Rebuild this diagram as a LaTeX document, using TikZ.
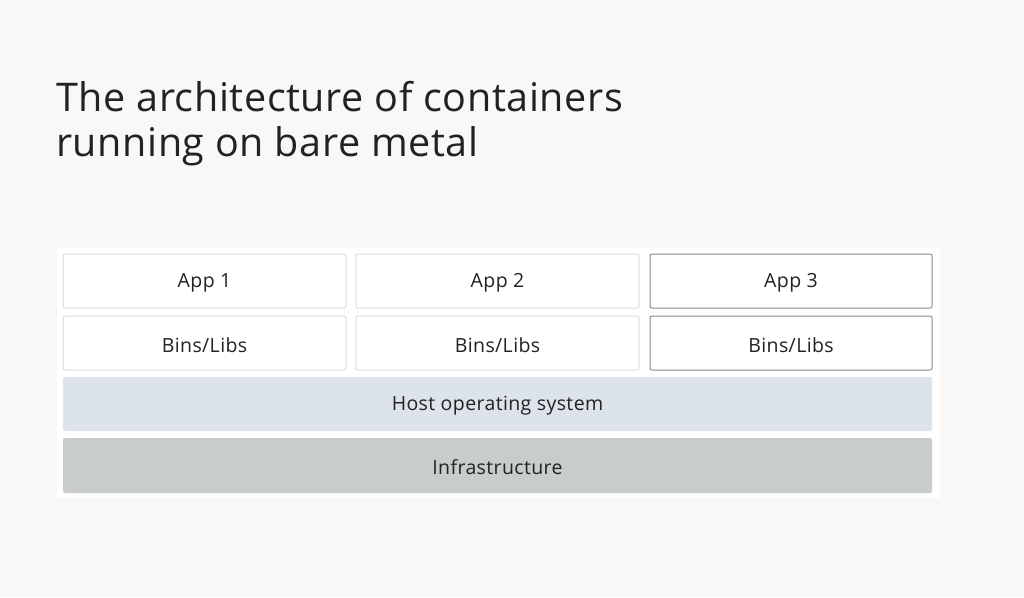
\documentclass[tikz,border=0pt]{standalone}
\usepackage{fontspec}
\setmainfont{Open Sans}
\definecolor{bg}{HTML}{F9F8F6}
\definecolor{lb}{HTML}{DCDCDC}
\definecolor{db}{HTML}{8C8C8C}
\definecolor{host}{HTML}{DDE3EA}
\definecolor{infra}{HTML}{C8CCCB}
\definecolor{ink}{HTML}{222222}
\begin{document}
\begin{tikzpicture}[x=1pt,y=-1pt,
  lab/.style={text=ink,font=\fontsize{19.5}{22}\selectfont\addfontfeatures{LetterSpace=2}},
  box/.style={draw=lb,fill=white,rounded corners=2pt,line width=1pt},
  box3/.style={box,draw=db},
  band/.style={rounded corners=2pt}]
\fill[bg] (0,0) rectangle (1024,597);
\useasboundingbox (0,0) rectangle (1024,597);
\node[anchor=base west,text=ink,font=\fontsize{39.5}{45}\selectfont\addfontfeatures{LetterSpace=1.5},inner sep=0] (title) at (56,111) {The architecture of containers};
\node[anchor=base west,text=ink,font=\fontsize{39.5}{45}\selectfont\addfontfeatures{LetterSpace=1.5},inner sep=0] (title2) at (56,156) {running on bare metal};
\fill[white] (57,248) rectangle (940,498);
\draw[box] (63,254) rectangle (346,308);
\draw[box] (356,254) rectangle (639,308);
\draw[box3] (650,254) rectangle (932,308);
\draw[box] (63,316) rectangle (346,370);
\draw[box] (356,316) rectangle (639,370);
\draw[box3] (650,316) rectangle (932,370);
\fill[host,band] (63,377) rectangle (932,431);
\fill[infra,band] (63,438) rectangle (932,493);
\node[lab] (a1) at (204.5,283) {App 1};
\node[lab] (a2) at (497.5,283) {App 2};
\node[lab] (a3) at (791,283) {App 3};
\node[lab] (b1) at (204.5,345) {Bins/Libs};
\node[lab] (b2) at (497.5,345) {Bins/Libs};
\node[lab] (b3) at (791,345) {Bins/Libs};
\node[lab] (h) at (497.5,406) {Host operating system};
\node[lab] (i) at (497.5,467.5) {Infrastructure};
\end{tikzpicture}
\end{document}
